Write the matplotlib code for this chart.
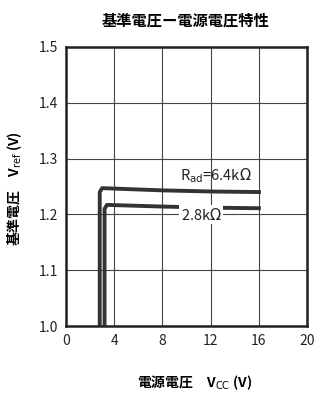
import matplotlib.pyplot as plt
import numpy as np

plt.rcParams['font.family'] = ['Noto Sans CJK JP', 'DejaVu Sans']
plt.rcParams['axes.unicode_minus'] = False

# データ (読み取り値)
vcc_64 = [2.8, 2.8, 3.0, 8, 12, 16]
vref_64 = [1.0, 1.24, 1.247, 1.243, 1.241, 1.24]
vcc_28 = [3.2, 3.2, 3.4, 8, 12, 16]
vref_28 = [1.0, 1.21, 1.217, 1.214, 1.212, 1.211]

xticks = [0, 4, 8, 12, 16, 20]
yticks = [1.0, 1.1, 1.2, 1.3, 1.4, 1.5]

fig = plt.figure(figsize=(3.25, 4.01), dpi=100)
ax = fig.add_axes([0.203, 0.187, 0.742, 0.696])

ax.plot(vcc_64, vref_64, color='#333333', lw=2.8)
ax.plot(vcc_28, vref_28, color='#333333', lw=2.8)

ax.set_xlim(0, 20)
ax.set_ylim(1.0, 1.5)
ax.set_xticks(xticks)
ax.set_yticks(yticks)
ax.set_yticklabels(['%.1f' % v for v in yticks])
ax.grid(True, color='#444444', lw=0.8)
ax.tick_params(length=0, labelsize=10, colors='#222222', pad=6)
for s in ax.spines.values():
    s.set_linewidth(1.8)
    s.set_color('#222222')

ax.text(12.4, 1.27, r'R$_{\mathrm{ad}}$=6.4k$\Omega$', fontsize=10.5,
        ha='center', va='center', color='#222222')
ax.text(11.2, 1.199, r'2.8k$\Omega$', fontsize=10.5, ha='center', va='center',
        color='#222222', bbox=dict(facecolor='white', edgecolor='none', pad=1))

fig.text(0.57, 0.948, '基準電圧ー電源電圧特性', ha='center', va='center',
         fontsize=11, fontweight='bold')
fig.text(0.6, 0.045, r'電源電圧　V$_{\mathrm{CC}}$ (V)', ha='center', va='center',
         fontsize=10, fontweight='bold')
fig.text(0.045, 0.53, r'基準電圧　V$_{\mathrm{ref}}$ (V)', ha='center', va='center',
         fontsize=10, fontweight='bold', rotation=90)

plt.savefig('out.png', dpi=100)
